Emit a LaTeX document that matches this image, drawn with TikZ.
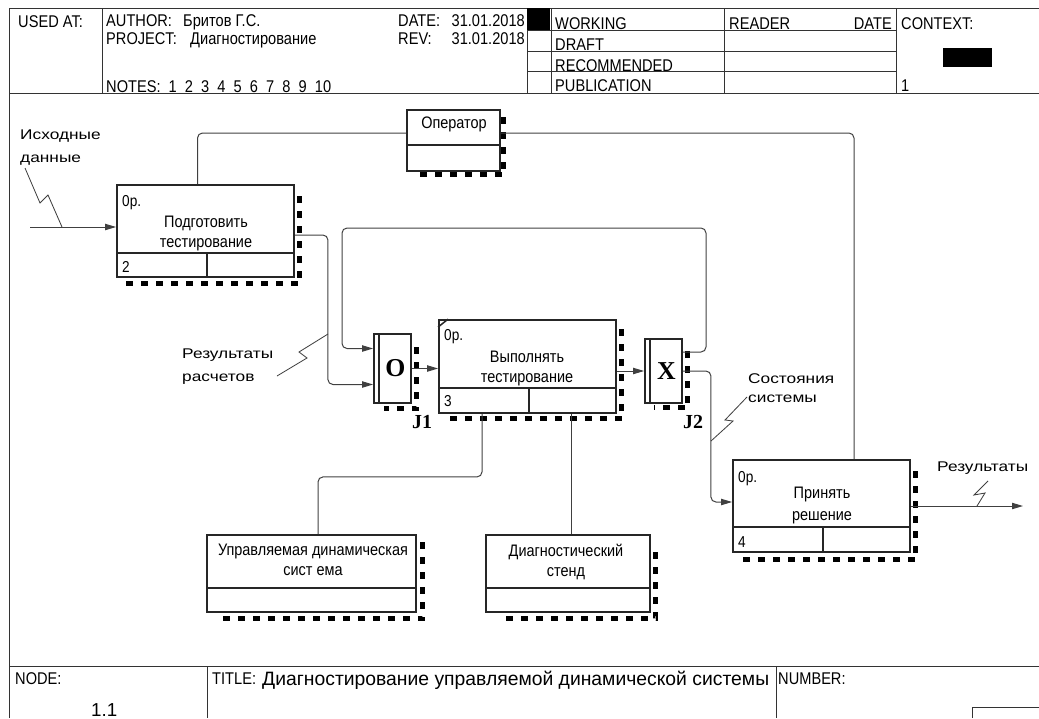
\documentclass[tikz,border=0pt]{standalone}
\usepackage{fontspec}
\setmainfont{Liberation Sans}
\newfontfamily\hdrfont[FakeStretch=0.86]{Liberation Sans}
\newfontfamily\boxfont[FakeStretch=0.87]{Liberation Sans}
\newfontfamily\lblfont[FakeStretch=1.23]{Liberation Sans}
\newfontfamily\jfont{Liberation Serif}
\usetikzlibrary{arrows.meta,calc,fit}

\tikzset{
  frameline/.style={draw=black!80, line width=0.3mm},
  funcbox/.style={draw=black!85, fill=white, line width=0.55mm, inner sep=0pt},
  divline/.style={draw=black!85, line width=0.45mm},
  shadowline/.style={line width=1.5mm, dash pattern=on 2.1mm off 2.4mm},
  conn/.style={draw=black!75, line width=0.3mm, rounded corners=1.5mm},
  arr/.style={-{Triangle[length=3.3mm,width=1.9mm]}},
  squig/.style={draw=black!75, line width=0.25mm},
  hdr/.style={anchor=base west, inner sep=0pt, font=\hdrfont\fontsize{14.5}{16}\selectfont},
  boxtxt/.style={anchor=north, align=center, inner sep=0pt, font=\boxfont\fontsize{14.2}{17}\selectfont},
  smalltxt/.style={anchor=base west, inner sep=0pt, font=\hdrfont\fontsize{13.5}{14}\selectfont},
  lbl/.style={anchor=north west, align=left, inner sep=0pt, font=\lblfont\fontsize{12}{19}\selectfont},
  jtxt/.style={inner sep=0pt, font=\jfont\bfseries\fontsize{22}{22}\selectfont},
  jlbl/.style={anchor=base west, inner sep=0pt, font=\jfont\bfseries\fontsize{17}{17}\selectfont}
}

\begin{document}
\begin{tikzpicture}[x=0.3mm, y=-0.3mm]
    \useasboundingbox (0,0) rectangle (1039,718);

    % form frame
    \draw[frameline] (9,718) -- (9,8) -- (1039,8);
    \draw[frameline] (9,93) -- (1039,93);
    \draw[frameline] (102,8) -- (102,93);
    \draw[frameline] (527,8) -- (527,93);
    \draw[frameline] (551,8) -- (551,93);
    \draw[frameline] (724,8) -- (724,93);
    \draw[frameline] (896,8) -- (896,93);
    \draw[frameline] (527,30) -- (896,30);
    \draw[frameline] (527,51) -- (896,51);
    \draw[frameline] (527,71) -- (896,71);
    \fill (527,8) rectangle (550,30);
    \fill (943,48) rectangle (992,67);

    \draw[frameline] (9,666) -- (1039,666);
    \draw[frameline] (207,666) -- (207,718);
    \draw[frameline] (776,666) -- (776,718);
    \draw[frameline] (972,718) -- (972,707) -- (1039,707);

    % header
    \node[hdr] (usedat) at (18,27) {USED AT:};
    \node[hdr] (author) at (106,26) {AUTHOR:};
    \node[hdr] (authorN) at (183,26) {Бритов Г.С.};
    \node[hdr] (project) at (106,44) {PROJECT:};
    \node[hdr] (projectN) at (190,44) {Диагностирование};
    \node[hdr] (notes) at (106,92) {NOTES:\ \ 1\ \ 2\ \ 3\ \ 4\ \ 5\ \ 6\ \ 7\ \ 8\ \ 9\ \ 10};
    \node[hdr] (date) at (398,26) {DATE:};
    \node[hdr, anchor=base east] (dateN) at (525,26) {31.01.2018};
    \node[hdr] (rev) at (398,44) {REV:};
    \node[hdr, anchor=base east] (revN) at (525,44) {31.01.2018};
    \node[hdr] (working) at (555,29) {WORKING};
    \node[hdr] (draft) at (555,50) {DRAFT};
    \node[hdr] (recomm) at (555,71) {RECOMMENDED};
    \node[hdr] (public) at (555,91) {PUBLICATION};
    \node[hdr] (reader) at (729,29) {READER};
    \node[hdr, anchor=base east] (rdate) at (892,29) {DATE};
    \node[hdr] (context) at (901,29) {CONTEXT:};
    \node[hdr] (ctxnum) at (901,91) {1};

    % footer
    \node[hdr] (nodeL) at (15,684) {NODE:};
    \node[hdr, font=\fontsize{16}{16}\selectfont] (nodeN) at (91,716) {1.1};
    \node[hdr] (titleL) at (212,684) {TITLE:};
    \node[hdr, font=\fontsize{16.5}{18}\selectfont] (title) at (262,685) {Диагностирование управляемой динамической системы};
    \node[hdr] (number) at (778,684) {NUMBER:};

    % boxes and junctions
    \node[funcbox, fit={(117,185) (294,277)}] (prep) {};
    \node[funcbox, fit={(407,110) (500,171)}] (oper) {};
    \node[funcbox, fit={(439,320) (616,413)}] (exec) {};
    \node[funcbox, fit={(733,460) (910,552)}] (decide) {};
    \node[funcbox, fit={(207,535) (416,612)}] (sysbox) {};
    \node[funcbox, fit={(486,535) (650,612)}] (stand) {};
    \node[funcbox, fit={(374,334) (411,403)}] (j1) {};
    \node[funcbox, fit={(645,339) (682,403)}] (j2) {};

    % shadows
    \draw[shadowline] ($(prep.north east)+(5,12)$) -- ($(prep.south east)+(5,6)$) -- ($(prep.south west)+(10,6)$);
    \draw[shadowline] ($(oper.north east)+(3,8)$) -- ($(oper.south east)+(3,3)$) -- ($(oper.south west)+(10,3)$);
    \draw[shadowline] ($(exec.north east)+(5,10)$) -- ($(exec.south east)+(5,5)$) -- ($(exec.south west)+(8,5)$);
    \draw[shadowline] ($(decide.north east)+(5,12)$) -- ($(decide.south east)+(5,7)$) -- ($(decide.south west)+(10,7)$);
    \draw[shadowline] ($(sysbox.north east)+(6,8)$) -- ($(sysbox.south east)+(6,6)$) -- ($(sysbox.south west)+(13,6)$);
    \draw[shadowline] ($(stand.north east)+(5,18)$) -- ($(stand.south east)+(5,6)$) -- ($(stand.south west)+(17,6)$);
    \draw[shadowline] ($(j1.north east)+(5,14)$) -- ($(j1.south east)+(5,5)$) -- ($(j1.south west)+(11,5)$);
    \draw[shadowline] ($(j2.north east)+(5,13)$) -- ($(j2.south east)+(5,4)$) -- ($(j2.south west)+(10,4)$);

    % dividers
    \draw[divline] ($(prep.south west)+(0,-25)$) -- ($(prep.south east)+(0,-25)$);
    \draw[divline] ($(prep.south)+(1.5,0)$) -- ++(0,-25);
    \draw[divline] ($(oper.south west)+(0,-27)$) -- ($(oper.south east)+(0,-27)$);
    \draw[divline] ($(exec.south west)+(0,-26)$) -- ($(exec.south east)+(0,-26)$);
    \draw[divline] ($(exec.south)+(1.5,0)$) -- ++(0,-26);
    \draw[divline] ($(exec.north west)+(0,8)$) -- ($(exec.north west)+(10,0)$);
    \draw[divline] ($(decide.south west)+(0,-26)$) -- ($(decide.south east)+(0,-26)$);
    \draw[divline] ($(decide.south)+(1.5,0)$) -- ++(0,-26);
    \draw[divline] ($(sysbox.south west)+(0,-25)$) -- ($(sysbox.south east)+(0,-25)$);
    \draw[divline] ($(stand.south west)+(0,-25)$) -- ($(stand.south east)+(0,-25)$);
    \draw[divline] ($(j1.north west)+(6,0)$) -- ($(j1.south west)+(6,0)$);
    \draw[divline] ($(j2.north west)+(6,0)$) -- ($(j2.south west)+(6,0)$);

    % box texts
    \node[boxtxt] (prepT) at (206,216) {Подготовить\\тестирование};
    \node[smalltxt] (prepN) at (122,206) {0р.};
    \node[smalltxt] (prepI) at (122,272) {2};
    \node[boxtxt] (operT) at (454,117) {Оператор};
    \node[boxtxt] (execT) at (527,351) {Выполнять\\тестирование};
    \node[smalltxt] (execN) at (444,340) {0р.};
    \node[smalltxt] (execI) at (444,406) {3};
    \node[boxtxt, font=\boxfont\fontsize{14.2}{18.5}\selectfont] (decideT) at (822,487) {Принять\\решение};
    \node[smalltxt] (decideN) at (738,482) {0р.};
    \node[smalltxt] (decideI) at (738,547) {4};
    \node[boxtxt] (sysT) at (313,544) {Управляемая динамическая\\сист ема};
    \node[boxtxt] (standT) at (566,544) {Диагностический\\стенд};
    \node[jtxt] (j1T) at ($(j1)+(3,0)$) {O};
    \node[jtxt] (j2T) at ($(j2)+(3,0)$) {X};
    \node[jlbl] (j1L) at (412,428) {J1};
    \node[jlbl] (j2L) at (683,428) {J2};

    % arrow labels
    \node[lbl] (inL) at (20,130) {Исходные\\данные};
    \node[lbl] (calcL) at (182,349) {Результаты\\расчетов};
    \node[lbl, font=\lblfont\fontsize{12}{17}\selectfont] (stateL) at (748,373) {Состояния\\системы};
    \node[lbl] (resL) at (937,462) {Результаты};

    % connectors
    \coordinate (inS) at (30,227);
    \draw[conn,arr] (inS) -- (inS -| prep.west);
    \draw[conn,arr] ($(prep.east)+(0,4)$) -- ++(33,0) |- ($(j1.west)+(0,16)$);
    \coordinate (loopR) at (706,228);
    \coordinate (loopL) at (342,228);
    \draw[conn,arr] ($(j2.east)+(0,-19)$) -| (loopR) -- (loopL) |- ($(j1.west)+(0,-20)$);
    \draw[conn,arr] (j1.east) -- (j1.east -| exec.west);
    \draw[conn,arr] (j2.west -| exec.east) -- (j2.west);
    \draw[conn,arr] (j2.east) -- ++(28,0) |- ($(decide.west)+(0,-4)$);
    \coordinate (outE) at (1023,506);
    \draw[conn,arr] (decide.east) -- (outE);
    \draw[conn] ($(prep.north)+(-8,0)$) |- ($(oper.west)+(0,-7.5)$);
    \draw[conn] ($(oper.east)+(0,-7.5)$) -| ($(decide.north)+(32.5,0)$);
    \draw[conn] ($(exec.south)+(-45.5,0)$) -- ++(0,63) -| ($(sysbox.north)+(6.5,0)$);
    \draw[conn] ($(stand.north)+(3,0)$) -- ($(exec.south)+(43.5,0)$);

    % squiggles
    \draw[squig] (25,168) -- (40,203) -- (48,195) -- (62,227);
    \draw[squig] (277,376) -- (307,358) -- (299,352) -- (328,334);
    \draw[squig] (747,397) -- (725,420) -- (733,421) -- (711,441);
    \draw[squig] (988,481) -- (974,495) -- (985,493) -- (977,506);
\end{tikzpicture}
\end{document}
